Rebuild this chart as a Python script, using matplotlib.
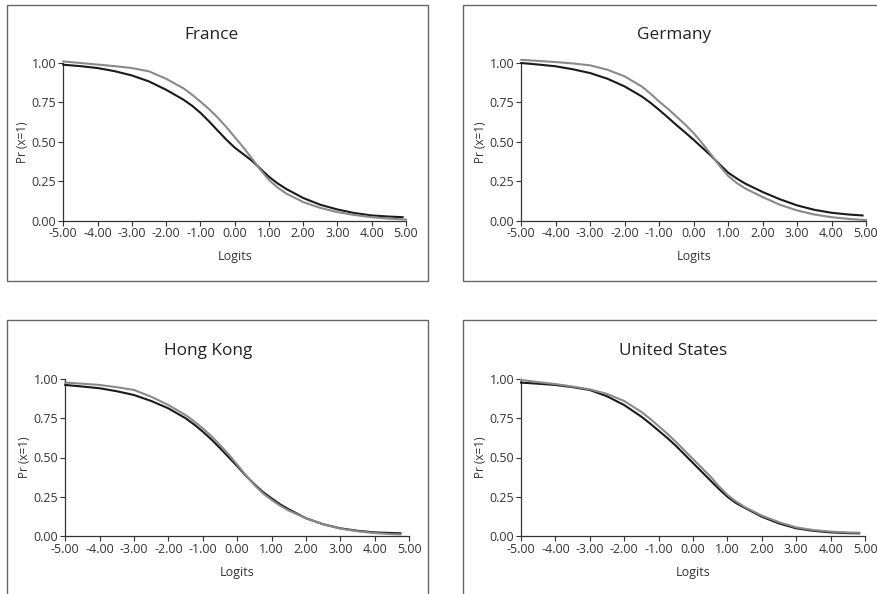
import matplotlib.pyplot as plt
from matplotlib.patches import Rectangle

# logit positions: half steps in the tails, quarter steps through the middle
base = [-5, -4.5, -4, -3.5, -3, -2.5, -2, -1.5, -1.25, -1, -0.75, -0.5, -0.25, 0,
        0.25, 0.5, 0.75, 1, 1.25, 1.5, 2, 2.5, 3, 3.5, 4, 4.5]
logits_fr = base + [4.9]
logits_fr_gray = base + [5.0]
logits_de = base + [4.9]
logits_de_gray = base + [5.0]
logits_hk = base + [4.75]
logits_us = base + [4.83]

france_black = [0.989, 0.98, 0.968, 0.948, 0.921, 0.883, 0.83, 0.768, 0.73, 0.684, 0.63, 0.572,
                0.515, 0.463, 0.422, 0.38, 0.329, 0.278, 0.236, 0.201, 0.143, 0.10, 0.07, 0.047,
                0.032, 0.025, 0.021]
france_gray = [1.01, 1.0, 0.99, 0.98, 0.968, 0.947, 0.90, 0.84, 0.80, 0.755, 0.708, 0.655,
               0.595, 0.53, 0.465, 0.395, 0.322, 0.258, 0.21, 0.172, 0.117, 0.08, 0.053, 0.035,
               0.021, 0.012, 0.006]

germany_black = [1.0, 0.99, 0.979, 0.96, 0.936, 0.90, 0.851, 0.787, 0.747, 0.702, 0.655, 0.606,
                 0.56, 0.512, 0.462, 0.412, 0.357, 0.304, 0.267, 0.234, 0.181, 0.135, 0.096,
                 0.068, 0.049, 0.038, 0.032]
germany_gray = [1.02, 1.013, 1.006, 0.997, 0.985, 0.957, 0.915, 0.85, 0.805, 0.755, 0.71, 0.66,
                0.61, 0.555, 0.49, 0.42, 0.348, 0.283, 0.238, 0.203, 0.149, 0.10, 0.064, 0.038,
                0.021, 0.01, 0.003]

hongkong_black = [0.962, 0.952, 0.941, 0.922, 0.898, 0.86, 0.813, 0.75, 0.71, 0.665, 0.615, 0.56,
                  0.503, 0.445, 0.385, 0.33, 0.28, 0.24, 0.202, 0.17, 0.113, 0.075, 0.049, 0.033,
                  0.023, 0.019, 0.017]
hongkong_gray = [0.977, 0.97, 0.962, 0.948, 0.93, 0.887, 0.834, 0.77, 0.73, 0.686, 0.636, 0.58,
                 0.52, 0.455, 0.388, 0.325, 0.272, 0.23, 0.193, 0.162, 0.113, 0.075, 0.047, 0.03,
                 0.019, 0.012, 0.01]

us_black = [0.977, 0.97, 0.962, 0.948, 0.93, 0.89, 0.834, 0.76, 0.717, 0.671, 0.625, 0.575,
            0.52, 0.465, 0.41, 0.355, 0.30, 0.25, 0.21, 0.18, 0.123, 0.08, 0.049, 0.033,
            0.023, 0.018, 0.017]
us_gray = [0.994, 0.98, 0.968, 0.952, 0.934, 0.905, 0.86, 0.79, 0.747, 0.70, 0.652, 0.60,
           0.545, 0.49, 0.435, 0.38, 0.318, 0.262, 0.22, 0.185, 0.13, 0.088, 0.055, 0.038,
           0.028, 0.022, 0.021]

titles = ["France", "Germany", "Hong Kong", "United States"]
x_ticks = [-5, -4, -3, -2, -1, 0, 1, 2, 3, 4, 5]
y_ticks = [0, 0.25, 0.5, 0.75, 1.0]

W, H = 878, 594
plt.rcParams['font.family'] = ['Open Sans', 'DejaVu Sans']


def fx(px):
    return px / W


def fy(py):
    return 1 - py / H


def main():
    fig = plt.figure(figsize=(W / 100, H / 100), dpi=100)

    # panel frames: (left, top, right, bottom) in pixels
    boxes = [(7, 5, 428, 281), (463, 5, 892, 281), (7, 320, 428, 610), (463, 320, 892, 610)]
    for l, t, r, b in boxes:
        fig.patches.append(Rectangle((fx(l), fy(b)), fx(r - l), (b - t) / H,
                                     transform=fig.transFigure, fill=False,
                                     edgecolor='#666666', linewidth=1.0))

    # axes areas: (left, top, right, bottom) in pixels
    areas = [(63.3, 63, 406, 220.5), (521.3, 63, 866, 220.5),
             (65.3, 379, 409, 536), (521, 379, 865, 536)]
    title_pos = [(212, 35), (674, 35), (208, 351), (673, 351)]
    series = [(logits_fr, france_black, logits_fr_gray, france_gray),
              (logits_de, germany_black, logits_de_gray, germany_gray),
              (logits_hk, hongkong_black, logits_hk, hongkong_gray),
              (logits_us, us_black, logits_us, us_gray)]

    for i, (l, t, r, b) in enumerate(areas):
        ax = fig.add_axes([fx(l), fy(b), fx(r - l), (b - t) / H])
        xb, yb, xg, yg = series[i]
        ax.plot(xb, yb, color='#1a1a1a', linewidth=1.5, clip_on=False, zorder=3,
                solid_joinstyle='round')
        ax.plot(xg, yg, color='#8a8a8a', linewidth=1.5, clip_on=False, zorder=4,
                solid_joinstyle='round')
        ax.set_xlim(-5, 5)
        ax.set_ylim(0, 1)
        ax.set_xticks(x_ticks)
        ax.set_xticklabels(["%.2f" % v for v in x_ticks])
        ax.set_yticks(y_ticks)
        ax.set_yticklabels(["%.2f" % v for v in y_ticks])
        for s in ['top', 'right']:
            ax.spines[s].set_visible(False)
        for s in ['left', 'bottom']:
            ax.spines[s].set_color('#333333')
            ax.spines[s].set_linewidth(0.9)
        ax.tick_params(axis='both', length=3.5, width=0.8, color='#333333',
                       labelsize=9, labelcolor='#333333', pad=1.5)
        ax.set_xlabel("Logits", fontsize=9, color='#333333')
        ax.xaxis.set_label_coords(0.5, -0.23)
        ax.xaxis.label.set_va('center')
        ax.set_ylabel("Pr (x=1)", fontsize=8.5, color='#333333')
        ax.yaxis.set_label_coords(-41 / (r - l), 0.5)
        ax.yaxis.label.set_va('center')
        tx, ty = title_pos[i]
        fig.text(fx(tx), fy(ty), titles[i], ha='center', va='center',
                 fontsize=12.4, color='#222222')

    fig.savefig('out.png', dpi=100)


if __name__ == '__main__':
    main()
